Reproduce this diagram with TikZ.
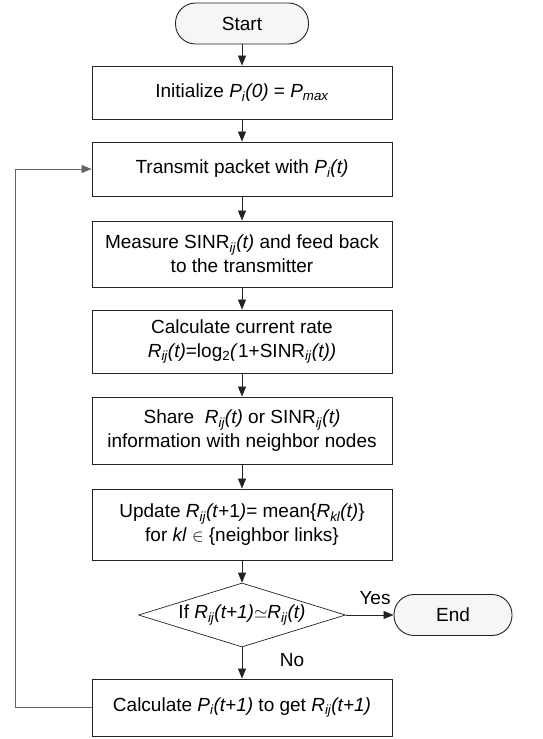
\documentclass[tikz,border=0pt]{standalone}
\usepackage{fontspec}
\setmainfont{Liberation Sans}
\usetikzlibrary{shapes.geometric,arrows.meta}
\definecolor{edge}{RGB}{35,35,35}
\definecolor{backline}{RGB}{100,100,100}
\definecolor{termfill}{RGB}{246,246,246}
\tikzset{
	proc/.style={draw=edge, line width=0.9pt, rectangle, minimum width=300pt, align=center, inner sep=0pt},
	term/.style={draw=edge, line width=0.9pt, fill=termfill, rounded corners=20pt, minimum height=41pt, inner sep=0pt},
	decide/.style={draw=edge, line width=0.7pt, diamond, aspect=3.2, minimum width=207pt, minimum height=64pt, inner sep=0pt},
	flow/.style={-{Triangle[length=10pt,width=8pt]}, line width=0.8pt, draw=edge},
}
\newcommand{\sub}[1]{\textsubscript{\textit{#1}}}
\begin{document}
\begin{tikzpicture}[x=1pt, y=-1pt, font=\fontsize{19}{24}\selectfont]
		\useasboundingbox (0,0) rectangle (543,739);
		\def\cx{242}
		
		%Start and End
		\node[term, minimum width=133pt] (start) at (\cx,23.5) {Start};
		\node[term, minimum width=118pt] (stop) at (453,615) {End};
		
		%Steps
		\node[proc, minimum height=53pt] (init) at (\cx,92.5) {Initialize \textit{P\sub{i}(0)} = \textit{P\sub{max}}};
		\node[proc, minimum height=54pt] (send) at (\cx,169) {Transmit packet with \textit{P\sub{i}(t)}};
		\node[proc, minimum height=66pt] (measure) at (\cx,254) {Measure SINR\sub{ij}\textit{(t)} and feed back\\to the transmitter};
		\node[proc, minimum height=63pt] (rate) at (\cx,341.5) {Calculate current rate\\\textit{R\sub{ij}(t)}=log\textsubscript{2}\textit{(}1+SINR\sub{ij}\textit{(t))}};
		\node[proc, minimum height=67pt] (share) at (\cx,430.5) {Share~~\textit{R\sub{ij}(t)} or SINR\sub{ij}\textit{(t)}\\information with neighbor nodes};
		\node[proc, minimum height=71pt] (update) at (\cx,524.5) {Update \textit{R\sub{ij}(t}+1\textit{)}= mean\{\textit{R\sub{kl}(t)}\}\\for \textit{kl} $\in$ \{neighbor links\}};
		\node[decide] (check) at (\cx,615) {If \textit{R\sub{ij}(t+1)}$\simeq$\textit{R\sub{ij}(t)}};
		\node[proc, minimum height=57pt] (power) at (\cx,707.5) {Calculate \textit{P\sub{i}(t+1)} to get \textit{R\sub{ij}(t+1)}};
		
		%Arrows down
		\draw[flow] (start) -- (init);
		\draw[flow] (init) -- (send);
		\draw[flow] (send) -- (measure);
		\draw[flow] (measure) -- (rate);
		\draw[flow] (rate) -- (share);
		\draw[flow] (share) -- (update);
		\draw[flow] (update) -- (check);
		\draw[flow] (check) -- (power);
		\draw[flow] (check) -- (stop);
		
		%Labels
		\node (yes) at (375,598) {Yes};
		\node (no) at (292,660) {No};
		
		%Loop back
		\coordinate (back) at (15,708);
		\draw[flow, draw=backline] (power.west) -- (power.west -| back) |- (send.west);
	\end{tikzpicture}
\end{document}
